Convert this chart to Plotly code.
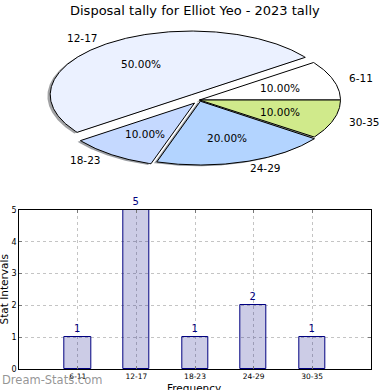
import numpy as np
import plotly.graph_objects as go

# ---- data ----
categories = ["6-11", "12-17", "18-23", "24-29", "30-35"]
counts = [1, 5, 1, 2, 1]
pie_colors = ["#FFFFFF", "#EBF1FF", "#C5D9FF", "#B3D4FF", "#D0EA8B"]
explode = [0.0, 0.1, 0.06, 0.02, 0.0]

title_text = "Disposal tally for Elliot Yeo - 2023 tally"
x_title = "Frequency"
y_title = "Stat Intervals"
watermark = "Dream-Stats.com"

W = H = 390
FONT = "DejaVu Sans"

# pie geometry (pixel canvas of top half)
CX, CY, RX, RY = 199.5, 100.0, 141.0, 63.8
SH_DX, SH_DY = -0.02, -0.02  # shadow offset in radius units

fig = go.Figure()

total = float(sum(counts))
fracs = [c / total for c in counts]
starts = np.cumsum([0] + fracs[:-1]) * 360.0


def hex_rgb(h):
    h = h.lstrip("#")
    return tuple(int(h[i:i + 2], 16) for i in (0, 2, 4))


def wedge(a0, a1, cx, cy):
    angs = np.radians(np.linspace(a0, a1, max(int(a1 - a0) * 2, 8)))
    xs = np.concatenate([[cx], cx + RX * np.cos(angs), [cx]])
    ys = np.concatenate([[cy], cy - RY * np.sin(angs), [cy]])
    return xs, ys


slices = []
for i, f in enumerate(fracs):
    a0 = starts[i]
    a1 = a0 + f * 360.0
    mid = np.radians((a0 + a1) / 2)
    cx = CX + explode[i] * RX * np.cos(mid)
    cy = CY - explode[i] * RY * np.sin(mid)
    slices.append((a0, a1, mid, cx, cy))

# shadows first
for i, (a0, a1, mid, cx, cy) in enumerate(slices):
    r, g, b = hex_rgb(pie_colors[i])
    xs, ys = wedge(a0, a1, cx + SH_DX * RX, cy - SH_DY * RY)
    fig.add_trace(go.Scatter(
        x=xs, y=ys, xaxis="x2", yaxis="y2", mode="lines", fill="toself",
        fillcolor=f"rgba({int(r*0.3)},{int(g*0.3)},{int(b*0.3)},0.5)",
        line=dict(width=0), hoverinfo="skip", showlegend=False))

# wedges
for i, (a0, a1, mid, cx, cy) in enumerate(slices):
    xs, ys = wedge(a0, a1, cx, cy)
    fig.add_trace(go.Scatter(
        x=xs, y=ys, xaxis="x2", yaxis="y2", mode="lines", fill="toself",
        fillcolor=pie_colors[i], line=dict(color="#000000", width=1),
        hoverinfo="skip", showlegend=False))

annotations = []
for i, (a0, a1, mid, cx, cy) in enumerate(slices):
    # percentage labels
    annotations.append(dict(
        x=cx + 0.6 * RX * np.cos(mid), y=cy - 0.6 * RY * np.sin(mid),
        xref="x2", yref="y2", text=f"{fracs[i]*100:.2f}%", showarrow=False,
        xanchor="center", yanchor="middle",
        font=dict(family=FONT, size=10.5, color="black")))
    # category labels
    lx = cx + 1.1 * RX * np.cos(mid)
    ly = cy - 1.1 * RY * np.sin(mid)
    annotations.append(dict(
        x=lx, y=ly, xref="x2", yref="y2", text=categories[i], showarrow=False,
        xanchor="left" if np.cos(mid) > 0 else "right", yanchor="middle",
        font=dict(family=FONT, size=10.5, color="black")))

# ---- bar chart ----
fig.add_trace(go.Bar(
    x=list(range(len(categories))), y=counts, width=0.45,
    marker=dict(color="rgba(0,0,128,0.2)", line=dict(color="#000080", width=1)),
    text=[str(c) for c in counts], textposition="outside",
    textfont=dict(family=FONT, size=10, color="#000080"),
    cliponaxis=False, hoverinfo="skip", showlegend=False))

# titles / watermark
annotations += [
    dict(x=194.5 / W, y=1 - 10 / H, xref="paper", yref="paper", text=title_text,
         showarrow=False, xanchor="center", yanchor="middle",
         font=dict(family=FONT, size=13, color="black")),
    dict(x=194 / W, y=1 - 388 / H, xref="paper", yref="paper", text=x_title,
         showarrow=False, xanchor="center", yanchor="middle",
         font=dict(family=FONT, size=10.5, color="black")),
    dict(x=3.5 / W, y=1 - 290 / H, xref="paper", yref="paper", text=y_title,
         showarrow=False, xanchor="center", yanchor="middle", textangle=-90,
         font=dict(family=FONT, size=10.5, color="black")),
    dict(x=0, y=1 - 380 / H, xref="paper", yref="paper", text=watermark,
         showarrow=False, xanchor="left", yanchor="middle",
         font=dict(family=FONT, size=11.5, color="rgba(130,130,130,0.85)")),
]

fig.update_layout(
    width=W, height=H, margin=dict(l=0, r=0, t=0, b=0, pad=0, autoexpand=False),
    paper_bgcolor="white", plot_bgcolor="white",
    font=dict(family=FONT), showlegend=False, bargap=0,
    xaxis=dict(domain=[19.3 / W, 370.7 / W], range=[-1, 5], automargin=False,
               tickmode="array", tickvals=list(range(len(categories))),
               ticktext=categories, tickfont=dict(family=FONT, size=7.5, color="black"),
               showgrid=True, gridcolor="#c4c4c4", griddash="dot", gridwidth=1,
               zeroline=False, showline=True, linecolor="black", linewidth=1,
               mirror="ticks", ticks="inside", ticklen=3, tickcolor="#777",
               fixedrange=True),
    yaxis=dict(domain=[(H - 369) / H, (H - 210) / H], range=[0, 5], automargin=False,
               tickmode="array", tickvals=[0, 1, 2, 3, 4, 5],
               tickfont=dict(family=FONT, size=8, color="black"),
               showgrid=True, gridcolor="#c4c4c4", griddash="dot", gridwidth=1,
               zeroline=False, showline=True, linecolor="black", linewidth=1,
               mirror="ticks", ticks="inside", ticklen=3, tickcolor="#777",
               fixedrange=True),
    xaxis2=dict(domain=[0, 1], range=[0, W], visible=False, fixedrange=True,
                automargin=False),
    yaxis2=dict(domain=[0.5, 1], range=[H / 2, 0], visible=False, fixedrange=True,
                automargin=False),
    annotations=annotations,
)

fig.write_html(
    "out.html",
    config={"displayModeBar": False},
    post_script="document.body.style.margin='0';document.body.style.padding='0';",
)
